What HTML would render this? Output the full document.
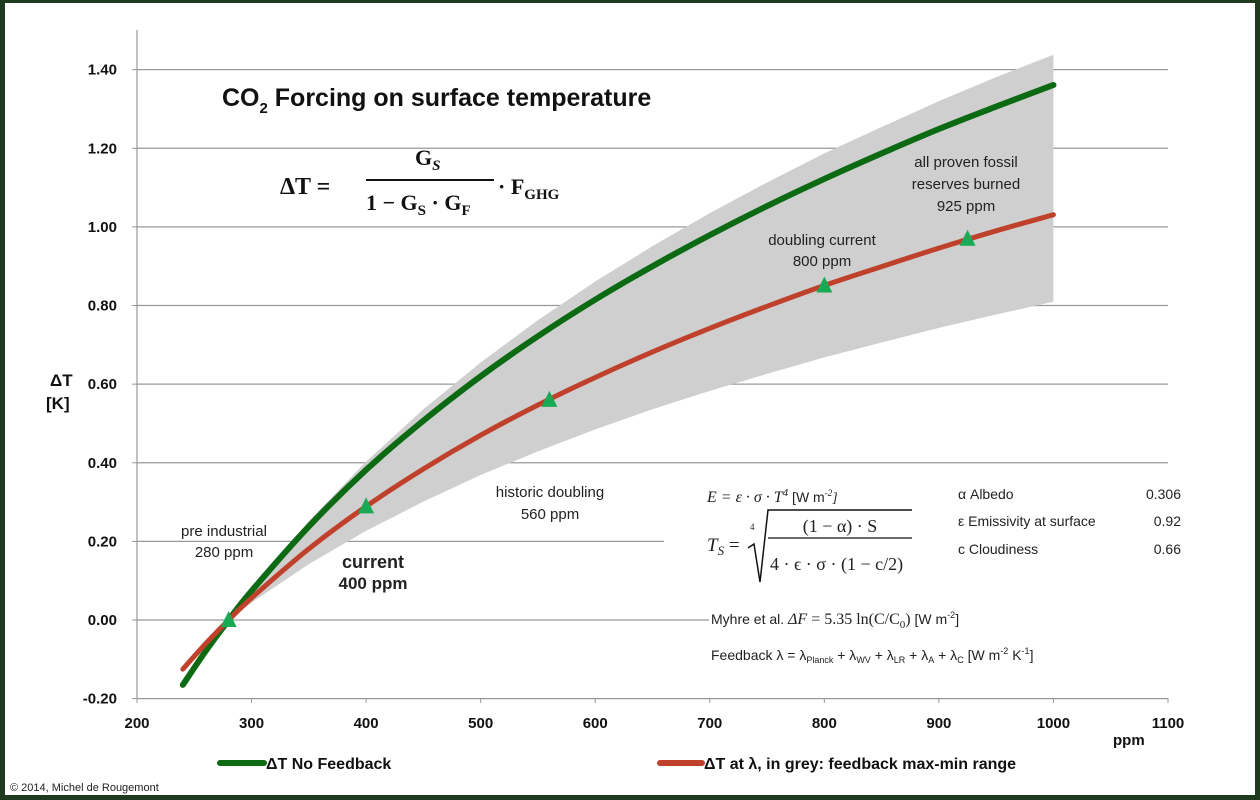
<!DOCTYPE html>
<html><head><meta charset="utf-8"><style>
body{margin:0;background:#fff}
svg{display:block;font-family:"Liberation Sans",sans-serif}
.t{font-size:14px;fill:#222}
.b{font-weight:bold}
.m{font-family:"Liberation Serif",serif}
</style></head><body>
<svg id="c" width="1260" height="800" viewBox="0 0 1260 800">
<rect x="0" y="0" width="1260" height="800" fill="#1f3a1f"/>
<rect x="5" y="3" width="1250" height="792" fill="#fff"/>
<g id="grid"></g>
<g id="band"></g>
<g id="mask">
<rect x="664" y="476" width="530" height="126" fill="#fff"/>
<rect x="709" y="600" width="485" height="72" fill="#fff"/>
</g>
<g id="series"></g>
<g id="axes"></g>
<text x="222" y="106" font-size="25" font-weight="bold" fill="#111">CO<tspan font-size="15" dy="7">2</tspan><tspan dy="-7"> Forcing on surface temperature</tspan></text>
<g class="m" font-weight="bold" fill="#111">
<text x="280" y="194" font-size="24">ΔT  =</text>
<text x="415" y="165" font-size="22">G<tspan font-size="15" font-style="italic" dy="5">S</tspan></text>
<line x1="366" y1="180" x2="494" y2="180" stroke="#111" stroke-width="2"/>
<text x="366" y="210" font-size="22">1 −  G<tspan font-size="15" dy="5">S</tspan><tspan dy="-5"> · G</tspan><tspan font-size="15" dy="5">F</tspan></text>
<text x="498" y="194" font-size="22">· F<tspan font-size="15" dy="5">GHG</tspan></text>
</g>
<g class="t">
<text x="224" y="536" text-anchor="middle" font-size="15">pre industrial</text>
<text x="224" y="557" text-anchor="middle" font-size="15">280 ppm</text>
<text x="373" y="568" text-anchor="middle" font-size="18" class="b">current</text>
<text x="373" y="589" text-anchor="middle" font-size="17" class="b">400 ppm</text>
<text x="550" y="497" text-anchor="middle" font-size="15">historic doubling</text>
<text x="550" y="519" text-anchor="middle" font-size="15">560 ppm</text>
<text x="822" y="245" text-anchor="middle" font-size="15">doubling current</text>
<text x="822" y="266" text-anchor="middle" font-size="15">800 ppm</text>
<text x="966" y="167" text-anchor="middle" font-size="15">all proven fossil</text>
<text x="966" y="189" text-anchor="middle" font-size="15">reserves burned</text>
<text x="966" y="211" text-anchor="middle" font-size="15">925 ppm</text>
</g>
<g class="t" font-size="15">
<text x="707" y="502" class="m" font-style="italic" font-size="16">E = ε · σ · T<tspan font-size="11" dy="-6">4</tspan><tspan font-style="normal" font-family="Liberation Sans" font-size="14" dy="6">   [W m</tspan><tspan font-size="9" dy="-6">-2</tspan><tspan font-size="14" dy="6">]</tspan></text>
<text x="707" y="551" class="m" font-style="italic" font-size="19">T<tspan font-size="13" dy="4">S</tspan><tspan font-style="normal" dy="-4"> =</tspan></text>
<text x="750" y="530" class="m" font-size="9">4</text>
<path d="M748 548 L754 544 L760 582 L768 510 L912 510" fill="none" stroke="#111" stroke-width="1.5"/>
<text x="840" y="532" text-anchor="middle" class="m" font-size="18">(1 − α) · S</text>
<line x1="768" y1="538" x2="912" y2="538" stroke="#111" stroke-width="1.3"/>
<text x="770" y="570" class="m" font-size="18">4 · ϵ · σ · (1 − c/2)</text>
<text x="958" y="499">α Albedo</text>
<text x="958" y="526">ε Emissivity at surface</text>
<text x="958" y="554">c Cloudiness</text>
<text x="1181" y="499" text-anchor="end">0.306</text>
<text x="1181" y="526" text-anchor="end">0.92</text>
<text x="1181" y="554" text-anchor="end">0.66</text>
<text x="711" y="624">Myhre et al.   <tspan class="m" font-style="italic" font-size="16">ΔF</tspan><tspan class="m" font-size="16"> = 5.35 ln(C/C</tspan><tspan class="m" font-size="11" dy="4">0</tspan><tspan class="m" font-size="16" dy="-4">)</tspan>  [W m<tspan font-size="9" dy="-6">-2</tspan><tspan dy="6">]</tspan></text>
<text x="711" y="660">Feedback  λ = λ<tspan font-size="9" dy="3">Planck</tspan><tspan dy="-3"> + λ</tspan><tspan font-size="9" dy="3">WV</tspan><tspan dy="-3"> + λ</tspan><tspan font-size="9" dy="3">LR</tspan><tspan dy="-3"> + λ</tspan><tspan font-size="9" dy="3">A</tspan><tspan dy="-3"> + λ</tspan><tspan font-size="9" dy="3">C</tspan><tspan dy="-3">   [W m</tspan><tspan font-size="9" dy="-6">-2</tspan><tspan dy="6"> K</tspan><tspan font-size="9" dy="-6">-1</tspan><tspan dy="6">]</tspan></text>
</g>
<text x="50" y="386" font-size="17" class="b" fill="#111">ΔT</text>
<text x="46" y="409" font-size="17" class="b" fill="#111">[K]</text>
<text x="1113" y="745" font-size="15" class="b" fill="#111">ppm</text>
<g>
<line x1="220" y1="763" x2="264" y2="763" stroke="#0b6a12" stroke-width="6" stroke-linecap="round"/>
<text x="266" y="769" font-size="16" class="b" fill="#111">ΔT No Feedback</text>
<line x1="660" y1="763" x2="702" y2="763" stroke="#c0412b" stroke-width="6" stroke-linecap="round"/>
<text x="704" y="769" font-size="16" class="b" fill="#111">ΔT at  λ, in grey: feedback max-min range</text>
</g>
<text x="10" y="791" font-size="11" fill="#222">© 2014, Michel de Rougemont</text>
</svg>
<script>
const ppm=[240,260,280,300,350,400,450,500,550,600,650,700,750,800,850,900,950,1000];
const noFeedback=[-0.165,-0.079,0,0.074,0.238,0.382,0.507,0.620,0.722,0.815,0.900,0.979,1.053,1.122,1.187,1.249,1.306,1.361];
const withFeedback=[-0.125,-0.060,0,0.056,0.181,0.289,0.384,0.470,0.547,0.617,0.682,0.742,0.798,0.851,0.899,0.946,0.990,1.031];
const bandPpm=[280,300,350,400,450,500,550,600,650,700,750,800,850,900,950,1000];
const bandUpper=[0,0.078,0.252,0.403,0.536,0.655,0.763,0.861,0.951,1.035,1.113,1.187,1.254,1.320,1.381,1.438];
const bandLower=[0,0.044,0.142,0.227,0.301,0.369,0.429,0.485,0.536,0.583,0.626,0.668,0.706,0.743,0.777,0.810];
const markerPpm=[280,400,560,800,925];
const markerVal=[0,0.289,0.56,0.851,0.97];
const xTicks=[200,300,400,500,600,700,800,900,1000,1100];
const yTicks=[-0.2,0,0.2,0.4,0.6,0.8,1.0,1.2,1.4];
const yTickLabels=["-0.20","0.00","0.20","0.40","0.60","0.80","1.00","1.20","1.40"];
const NS='http://www.w3.org/2000/svg';
const X=v=>137+(v-200)*(1031/900);
const Y=v=>620-v*393.1;
function mk(tag,attrs,parent){const e=document.createElementNS(NS,tag);for(const k in attrs)e.setAttribute(k,attrs[k]);parent.appendChild(e);return e;}
function smooth(xs,ys){let p=xs.map((x,i)=>[X(x),Y(ys[i])]);let d='M'+p[0][0]+' '+p[0][1];
for(let i=0;i<p.length-1;i++){const p0=p[Math.max(0,i-1)],p1=p[i],p2=p[i+1],p3=p[Math.min(p.length-1,i+2)];
d+=` C${p1[0]+(p2[0]-p0[0])/6} ${p1[1]+(p2[1]-p0[1])/6} ${p2[0]-(p3[0]-p1[0])/6} ${p2[1]-(p3[1]-p1[1])/6} ${p2[0]} ${p2[1]}`;}return d;}
const grid=document.getElementById('grid');
yTicks.forEach((v,i)=>{const l=mk('line',{x1:137,x2:1168,y1:Y(v),y2:Y(v),stroke:'#999','stroke-width':1.2},grid);

});
const band=document.getElementById('band');
let pts=bandPpm.map((x,i)=>X(x)+','+Y(bandUpper[i])).concat(bandPpm.slice().reverse().map((x,i)=>X(x)+','+Y(bandLower[bandPpm.length-1-i])));
const bp=mk('polygon',{points:pts.join(' '),fill:'#cfcfcf'},band);


const ser=document.getElementById('series');
const g1=mk('path',{d:smooth(ppm,noFeedback),fill:'none',stroke:'#0b6a12','stroke-width':6,'stroke-linecap':'round'},ser);


const r1=mk('path',{d:smooth(ppm,withFeedback),fill:'none',stroke:'#c0412b','stroke-width':5,'stroke-linecap':'round'},ser);


markerPpm.forEach((m,i)=>{const x=X(m),y=Y(markerVal[i]);
const t=mk('polygon',{points:`${x-8},${y+7} ${x+8},${y+7} ${x},${y-9}`,fill:'#1aaa55'},ser);

});
const ax=document.getElementById('axes');
const va=mk('line',{x1:137,x2:137,y1:30,y2:698,stroke:'#999','stroke-width':1.2},ax);


yTicks.forEach((v,i)=>{const t=mk('text',{x:117,y:Y(v)+5,'text-anchor':'end','font-size':15,'font-weight':'bold',fill:'#111'},ax);t.textContent=yTickLabels[i];


const tk=mk('line',{x1:132,x2:137,y1:Y(v),y2:Y(v),stroke:'#999'},ax);

});
xTicks.forEach(v=>{const t=mk('text',{x:X(v),y:728,'text-anchor':'middle','font-size':15,'font-weight':'bold',fill:'#111'},ax);t.textContent=v;


const tk=mk('line',{x1:X(v),x2:X(v),y1:698,y2:703,stroke:'#999'},ax);

});
</script>
</body></html>
